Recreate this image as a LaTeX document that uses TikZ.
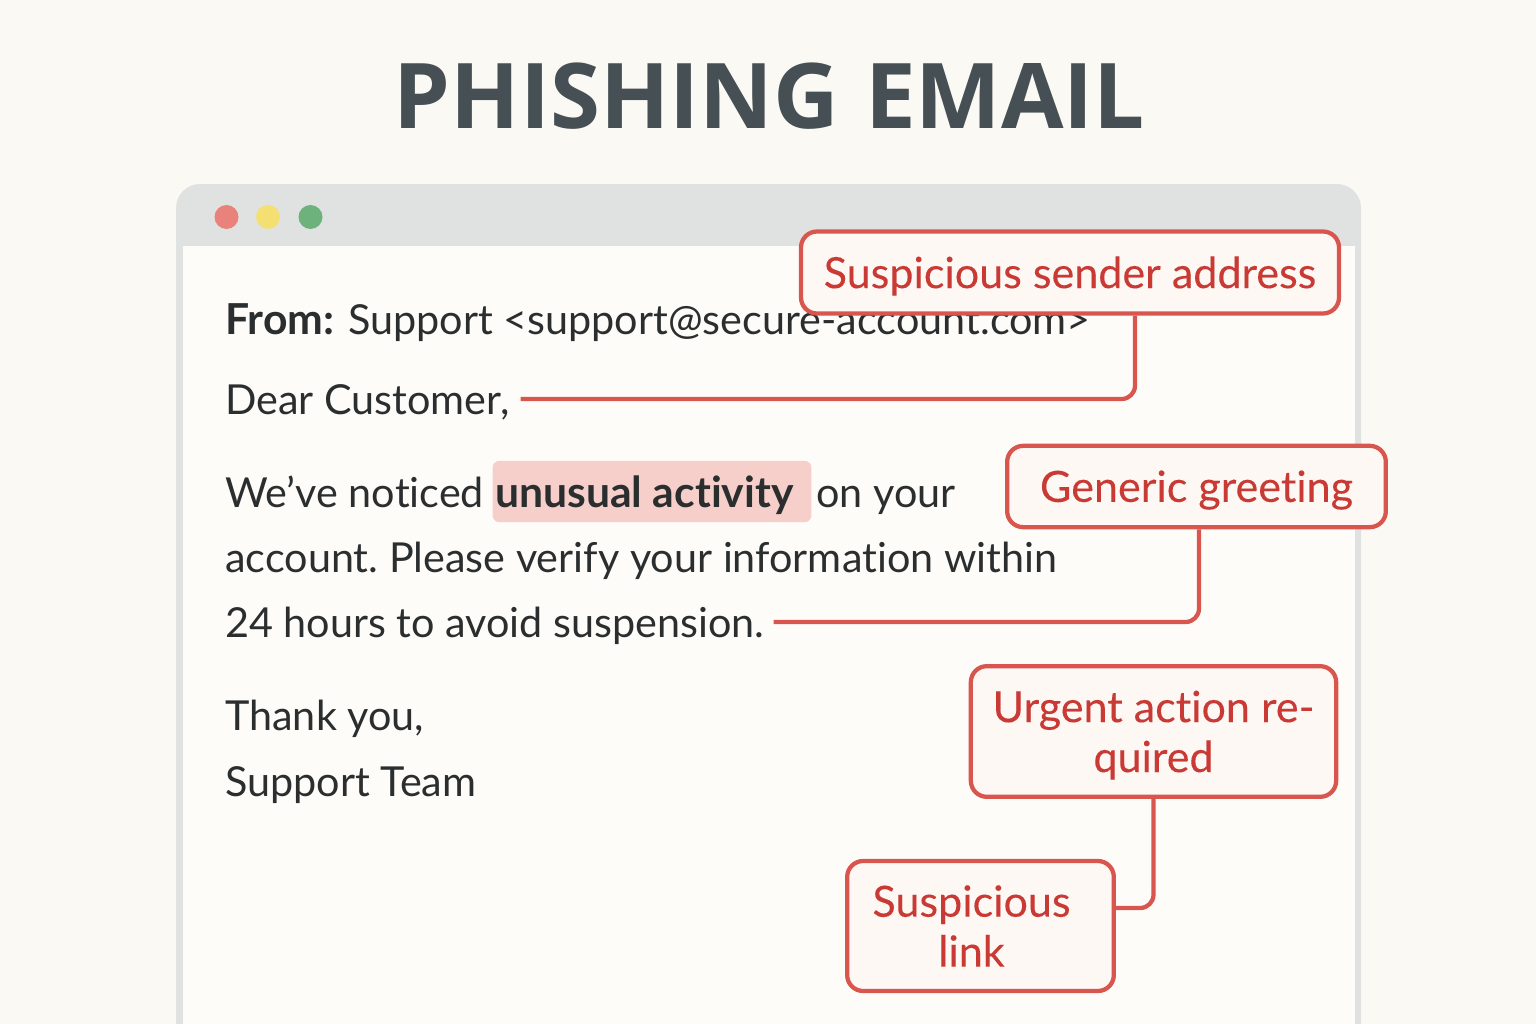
\documentclass[tikz,border=0pt]{standalone}
\usepackage{fontspec}
\setmainfont[Ligatures=NoCommon,Contextuals=NoAlternate]{Lato}
\newfontfamily\titlefont{Open Sans}
\newfontfamily\flagfont[FakeBold=0.12,Ligatures=NoCommon]{Lato}
\usetikzlibrary{calc}
\definecolor{pagebg}{HTML}{FBF9F4}
\definecolor{windowbg}{HTML}{FEFCF9}
\definecolor{chrome}{HTML}{E0E2E1}
\definecolor{inktext}{HTML}{2B2E2E}
\definecolor{titleink}{HTML}{454F54}
\definecolor{flagline}{HTML}{D9564F}
\definecolor{flagtext}{HTML}{C93A35}
\definecolor{flagfill}{HTML}{FEF8F5}
\definecolor{hilite}{HTML}{F6CFCB}
\definecolor{lampred}{HTML}{E8827B}
\definecolor{lampyellow}{HTML}{F3DF72}
\definecolor{lampgreen}{HTML}{6DB27C}
\newcommand{\flagstrut}{\rule{0pt}{29pt}}
\tikzset{
  bodytext/.style={anchor=base west, inner sep=0pt, text=inktext,
    font=\fontsize{31}{37}\selectfont},
  boldtext/.style={bodytext, font=\bfseries\fontsize{32}{37}\selectfont},
  flagbox/.style={draw=flagline, fill=flagfill, line width=3.2pt, rounded corners=12pt,
    align=center, inner sep=0pt, text=flagtext, font=\flagfont\fontsize{32.3}{37.5}\selectfont},
  leader/.style={draw=flagline, line width=3.2pt, rounded corners=10pt},
  lamp/.style={circle, inner sep=0pt, minimum size=18pt}
}
\begin{document}
\begin{tikzpicture}[x=0.75pt, y=-0.75pt]
  \clip (0,0) rectangle (1536,1024);
  \fill[pagebg] (0,0) rectangle (1536,1024);
  \node[anchor=base, inner sep=0pt, text=titleink, font=\titlefont\bfseries\fontsize{68}{80}\selectfont]
    (heading) at (769.5,128) {PHISHING\hspace{2pt} EMAIL};
  % window
  \fill[chrome, rounded corners=18pt] (176,184) rectangle (1361,1080);
  \fill[windowbg] (183,246) rectangle (1355,1080);
  \node[lamp, fill=lampred] (redlamp) at (226.5,217) {};
  \node[lamp, fill=lampyellow] (yellowlamp) at (268,217) {};
  \node[lamp, fill=lampgreen] (greenlamp) at (310.5,217) {};
  % email text
  \node[boldtext] (fromtag) at (225,334) {From:};
  \node[bodytext] (from) at (348,334) {Support <support@secure-account.com>};
  \node[bodytext] (dear) at (225,414) {Dear Customer,};
  \node[fill=hilite, rounded corners=5pt, inner sep=0pt, minimum width=239pt, minimum height=46pt]
    (mark) at (652,491.5) {};
  \node[bodytext] (noticed) at (225,507) {We’ve noticed};
  \node[boldtext] (unusual) at (495,507) {unusual activity};
  \node[bodytext] (onyour) at (816,507) {on your};
  \node[bodytext] (account) at (225,572) {account.\ Please verify your information within};
  \node[bodytext] (hours) at (225,637) {24 hours to avoid suspension.};
  \node[bodytext] (thanks) at (225,730) {Thank you,};
  \node[bodytext] (team) at (225,796) {Support Team};
  % flags
  \node[flagbox, minimum width=403.5pt, minimum height=61.5pt] (sender) at (1070,272.5) {\flagstrut Suspicious sender address};
  \node[flagbox, minimum width=284pt, minimum height=61pt] (greeting) at (1196.5,486.5) {\flagstrut Generic greeting};
  \node[flagbox, minimum width=274pt, minimum height=98pt] (urgent) at (1153.5,731.5) {\flagstrut Urgent action re-\\quired};
  \node[flagbox, minimum width=200pt, minimum height=97.5pt] (badlink) at (980.5,926) {Suspicious\hspace*{13.5pt}\\link\hspace*{13.5pt}};
  % leaders
  \draw[leader] ($(dear.base east)+(11,-15)$) -| ($(sender.south)+(65,0)$);
  \draw[leader] ($(hours.base east)+(9,-15)$) -| ($(greeting.south)+(2.5,0)$);
  \draw[leader] (urgent.south) |- ($(badlink.east)+(0,-18)$);
\end{tikzpicture}
\end{document}
